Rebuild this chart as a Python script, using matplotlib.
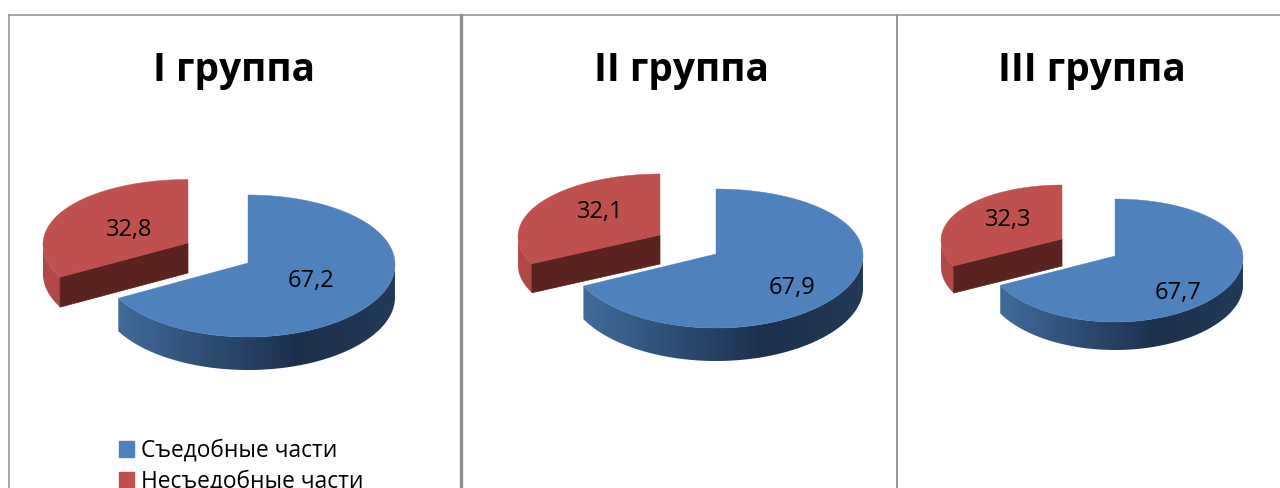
import numpy as np
import matplotlib
matplotlib.use('Agg')
import matplotlib.pyplot as plt
from matplotlib.colors import LinearSegmentedColormap
from matplotlib.patches import Patch, Polygon

plt.rcParams['font.family'] = ['Open Sans', 'DejaVu Sans']

# datos
grupos = ['I группа', 'II группа', 'III группа']
categorias = ['Съедобные части', 'Несъедобные части']
comestible = [67.2, 67.9, 67.7]
no_comestible = [32.8, 32.1, 32.3]
etiquetas_a = ['67,2', '67,9', '67,7']
etiquetas_b = ['32,8', '32,1', '32,3']

# layout en pixeles: cx, cy, rx, ry, e (perspectiva), alto
geom_a = [
    (248, 263, 147, 71, 3, 33),
    (716, 254, 147, 69.5, 4.5, 33),
    (1115, 256, 128, 61.5, 4.5, 28),
]
geom_b = [
    (188, 243, 145, 68, 4.5, 30),
    (660, 235, 142, 63, 2, 29),
    (1062, 239, 121, 57, 3, 27),
]
pos_a = [(311, 281), (792, 288), (1178, 293)]
pos_b = [(129, 230), (600, 212), (1008, 220)]
pos_titulo = [(234, 70), (681, 70), (1092, 70)]

AZUL = '#4f81bd'
ROJO = '#bf504d'
ROJO_CORTE = '#5a2320'
cmap_azul = LinearSegmentedColormap.from_list('az', ['#44709f', '#2f5078', '#1c304c', '#223a58'])
cmap_rojo = LinearSegmentedColormap.from_list('ro', ['#b04a47', '#bd504d'])
GRIS = '#8e8e8e'


def punto(g, th):
    # th en grados, sentido horario desde arriba
    cx, cy, rx, ry, e, h = g
    th = np.radians(th)
    return cx + rx * np.sin(th), cy - ry * np.cos(th) + e * np.cos(th) ** 2 + 1.5 * np.sin(th) ** 2


def sector(g, a, b):
    t = np.linspace(a, b, 200)
    xs, ys = punto(g, t)
    return np.r_[g[0], xs], np.r_[g[1], ys]


def lateral(ax, g, a, b, cmap):
    # borde con degrade: imagen recortada con la forma del lateral
    cx, cy, rx, ry, e, h = g
    t = np.linspace(a, b, 200)
    xs, ys = punto(g, t)
    verts = np.c_[np.r_[xs, xs[::-1]], np.r_[ys, ys[::-1] + h]]
    forma = Polygon(verts, closed=True, facecolor='none', edgecolor='none', transform=ax.transData)
    ax.add_patch(forma)
    grad = np.linspace(0, 1, 256).reshape(1, -1)
    im = ax.imshow(grad, extent=(cx - rx, cx + rx, cy + ry + h + 10, cy - ry - 10), cmap=cmap,
                   aspect='auto', interpolation='bilinear')
    im.set_clip_path(forma)


fig = plt.figure(figsize=(12.8, 4.88), dpi=100)
ax = fig.add_axes([0, 0, 1, 1])

# marcos
ax.plot([8.5, 1280], [14.5, 14.5], color=GRIS, lw=1.1)
ax.plot([8.5, 8.5], [14.5, 488], color=GRIS, lw=1.1)
ax.plot([460.5, 460.5], [14.5, 488], color=GRIS, lw=2.4)
ax.plot([897, 897], [14.5, 488], color=GRIS, lw=1.3)

for i in range(3):
    ga = geom_a[i]
    gb = geom_b[i]
    fin = comestible[i] / (comestible[i] + no_comestible[i]) * 360

    # porcion separada
    lateral(ax, gb, fin, 270, cmap_rojo)
    xe, ye = punto(gb, fin)
    ax.fill([gb[0], xe, xe, gb[0]], [gb[1], ye, ye + gb[5], gb[1] + gb[5]], color=ROJO_CORTE, lw=0.5)
    xs, ys = sector(gb, fin, 360)
    ax.fill(xs, ys, color=ROJO, lw=0.3)

    # porcion grande
    lateral(ax, ga, 90, fin, cmap_azul)
    xs, ys = sector(ga, 0, fin)
    ax.fill(xs, ys, color=AZUL, lw=0.3)

    ax.text(pos_a[i][0], pos_a[i][1], etiquetas_a[i], fontsize=17, ha='center', va='center', color='black')
    ax.text(pos_b[i][0], pos_b[i][1], etiquetas_b[i], fontsize=17, ha='center', va='center', color='black')
    ax.text(pos_titulo[i][0], pos_titulo[i][1], grupos[i], fontsize=28, fontweight='bold',
            ha='center', va='center', color='black')

handles = [Patch(color=AZUL, label=categorias[0]), Patch(color=ROJO, label=categorias[1])]
ax.legend(handles=handles, loc='upper left', bbox_to_anchor=(112 / 1280, 1 - 432 / 488), frameon=False,
          fontsize=16.4, handlelength=0.66, handleheight=0.66, handletextpad=0.33, labelspacing=0.3,
          borderpad=0, borderaxespad=0.3)

ax.set_xlim(0, 1280)
ax.set_ylim(488, 0)
ax.axis('off')

fig.savefig('out.png', dpi=100)
